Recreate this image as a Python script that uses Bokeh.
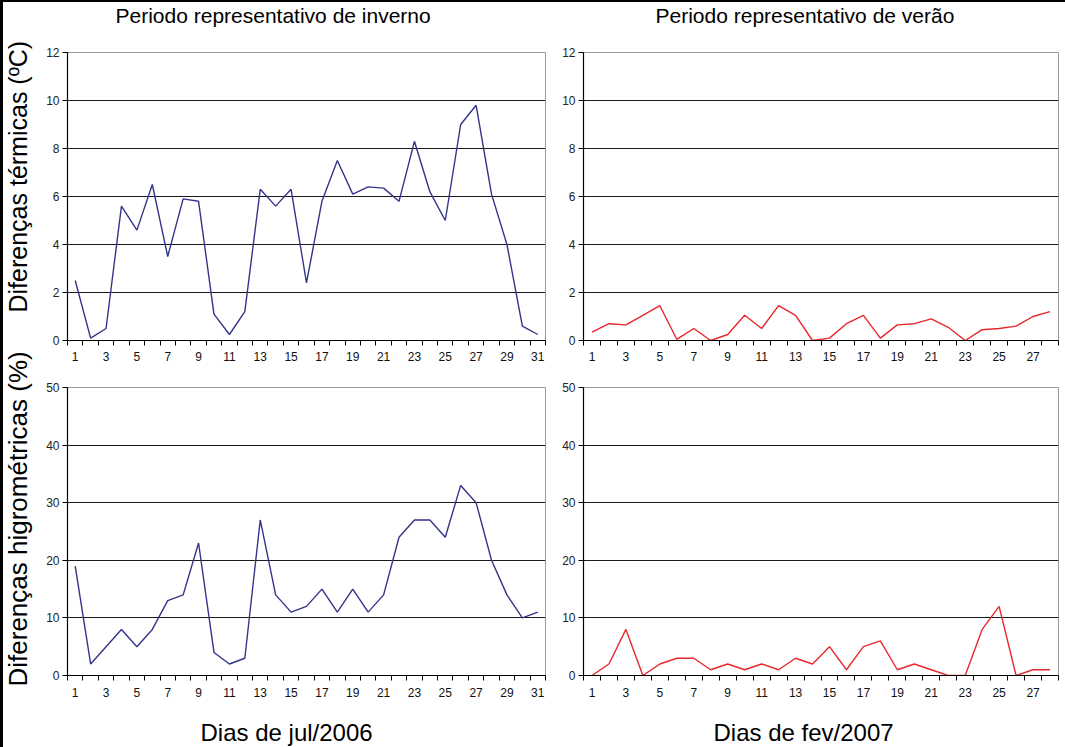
import math

from bokeh.plotting import figure
from bokeh.models import Range1d, FixedTicker, Label, Div
from bokeh.layouts import row, column
from bokeh.embed import file_html
from bokeh.resources import INLINE

# Days of each month
dias_jul = list(range(1, 32))
dias_fev = list(range(1, 29))

# Thermal differences (ºC)
temp_inverno = [2.5, 0.1, 0.5, 5.6, 4.6, 6.5, 3.5, 5.9, 5.8, 1.1,
                0.25, 1.2, 6.3, 5.6, 6.3, 2.4, 5.8, 7.5, 6.1, 6.4,
                6.35, 5.8, 8.3, 6.2, 5.0, 9.0, 9.8, 6.1, 4.0, 0.6, 0.25]
temp_verao = [0.35, 0.7, 0.65, 1.05, 1.45, 0.05, 0.5, 0.0, 0.25, 1.05,
              0.5, 1.45, 1.05, 0.0, 0.1, 0.7, 1.05, 0.1, 0.65, 0.7,
              0.9, 0.55, 0.0, 0.45, 0.5, 0.6, 1.0, 1.2]

# Hygrometric differences (%)
hum_inverno = [19, 2, 5, 8, 5, 8, 13, 14, 23, 4,
               2, 3, 27, 14, 11, 12, 15, 11, 15, 11,
               14, 24, 27, 27, 24, 33, 30, 20, 14, 10, 11]
hum_verao = [0, 2, 8, 0, 2, 3, 3, 1, 2, 1,
             2, 1, 3, 2, 5, 1, 5, 6, 1, 2,
             1, 0, 0, 8, 12, 0, 1, 1]

# Axis scales
temp_ticks = [0, 2, 4, 6, 8, 10, 12]
hum_ticks = [0, 10, 20, 30, 40, 50]

titulo_inverno = "Periodo representativo de inverno"
titulo_verao = "Periodo representativo de verão"
eixo_temp = "Diferenças térmicas (ºC)"
eixo_hum = "Diferenças higrométricas (%)"
eixo_jul = "Dias de jul/2006"
eixo_fev = "Dias de fev/2007"

AZUL = "#34348A"
VERMELHO = "#E8282C"
FONTE = "Liberation Sans"


def painel(dias, valores, cor, yticks, fw, bl, br, bt, bb, standoff_x):
    n = len(dias)
    p = figure(frame_width=fw, frame_height=288,
               x_range=Range1d(0.5, n + 0.5),
               y_range=Range1d(yticks[0], yticks[-1]),
               output_backend="svg", toolbar_location=None,
               min_border_left=bl, min_border_right=br,
               min_border_top=bt, min_border_bottom=bb)
    p.background_fill_color = "white"
    p.border_fill_color = "white"
    p.outline_line_color = "#9a9a9a"
    p.outline_line_width = 1

    # x axis: labels on odd days, tick marks between days
    p.xaxis.ticker = FixedTicker(ticks=[d for d in dias if d % 2 == 1],
                                 minor_ticks=[d - 0.5 for d in dias] + [n + 0.5])
    p.xaxis.major_tick_out = 5
    p.xaxis.major_tick_in = 0
    p.xaxis.major_tick_line_color = None
    p.xaxis.minor_tick_out = 5
    p.xaxis.minor_tick_in = 0
    p.xaxis.minor_tick_line_color = "black"
    p.xaxis.major_label_standoff = standoff_x
    p.xaxis.major_label_text_font = FONTE
    p.xaxis.major_label_text_font_size = "12px"
    p.xaxis.major_label_text_color = "#111111"
    p.xaxis.axis_line_color = "black"
    p.xaxis.axis_line_width = 1.2

    p.yaxis.ticker = FixedTicker(ticks=yticks)
    p.yaxis.major_tick_out = 5
    p.yaxis.major_tick_in = 0
    p.yaxis.minor_tick_line_color = None
    p.yaxis.major_label_standoff = 3
    p.yaxis.major_label_text_font = FONTE
    p.yaxis.major_label_text_font_size = "12px"
    p.yaxis.major_label_text_color = "#222222"
    p.yaxis.axis_line_color = "black"
    p.yaxis.axis_line_width = 1.2

    p.xgrid.visible = False
    p.ygrid.ticker = FixedTicker(ticks=yticks[1:-1])
    p.ygrid.grid_line_color = "#1a1a1a"
    p.ygrid.grid_line_width = 1

    p.line(dias, valores, line_color=cor, line_width=1.4)
    return p


def faixa(w, h):
    """Blank strip (1 data unit = 1 pixel) that carries the shared titles."""
    f = figure(frame_width=w, frame_height=h,
               x_range=Range1d(0, w), y_range=Range1d(0, h),
               x_axis_type=None, y_axis_type=None,
               output_backend="svg", toolbar_location=None,
               min_border=0, min_border_left=0, min_border_right=0,
               min_border_top=0, min_border_bottom=0)
    f.outline_line_color = None
    f.background_fill_color = "white"
    f.border_fill_color = "white"
    return f


def texto(x, y, t, tamanho, angulo=0.0, baseline="middle"):
    return Label(x=x, y=y, text=t, angle=angulo, text_align="left",
                 text_baseline=baseline, text_font=FONTE,
                 text_font_size=tamanho, text_color="black")


# Panels
p_tl = painel(dias_jul, temp_inverno, AZUL, temp_ticks, 478, 29, 10, 8, 30, 6)
p_tr = painel(dias_fev, temp_verao, VERMELHO, temp_ticks, 475, 28, 7, 8, 30, 6)
p_bl = painel(dias_jul, hum_inverno, AZUL, hum_ticks, 478, 29, 10, 17, 28, 7)
p_br = painel(dias_fev, hum_verao, VERMELHO, hum_ticks, 475, 28, 7, 17, 28, 7)

# Period titles above the panels
cabecalho = faixa(1027, 42)
cabecalho.add_layout(texto(77, 29, titulo_inverno, "21px"))
cabecalho.add_layout(texto(617, 29, titulo_verao, "21px"))

# Month titles below the panels
rodape = faixa(1027, 44)
rodape.add_layout(texto(162, 15, eixo_jul, "24px"))
rodape.add_layout(texto(675, 15, eixo_fev, "24px"))

# Vertical quantity titles on the left
lateral = faixa(35, 745)
lateral.add_layout(texto(14, 435, eixo_temp, "25px", math.pi / 2, "alphabetic"))
lateral.add_layout(texto(14, 61, eixo_hum, "26px", math.pi / 2, "alphabetic"))

borda_topo = Div(width=1065, height=2, margin=0,
                 styles={"background-color": "black"})
borda_esq = Div(width=3, height=745, margin=0,
                styles={"background-color": "black"})

layout = column(
    borda_topo,
    row(borda_esq, lateral,
        column(cabecalho, row(p_tl, p_tr), row(p_bl, p_br), rodape)),
)

open("out.html", "w").write(file_html(layout, INLINE))
